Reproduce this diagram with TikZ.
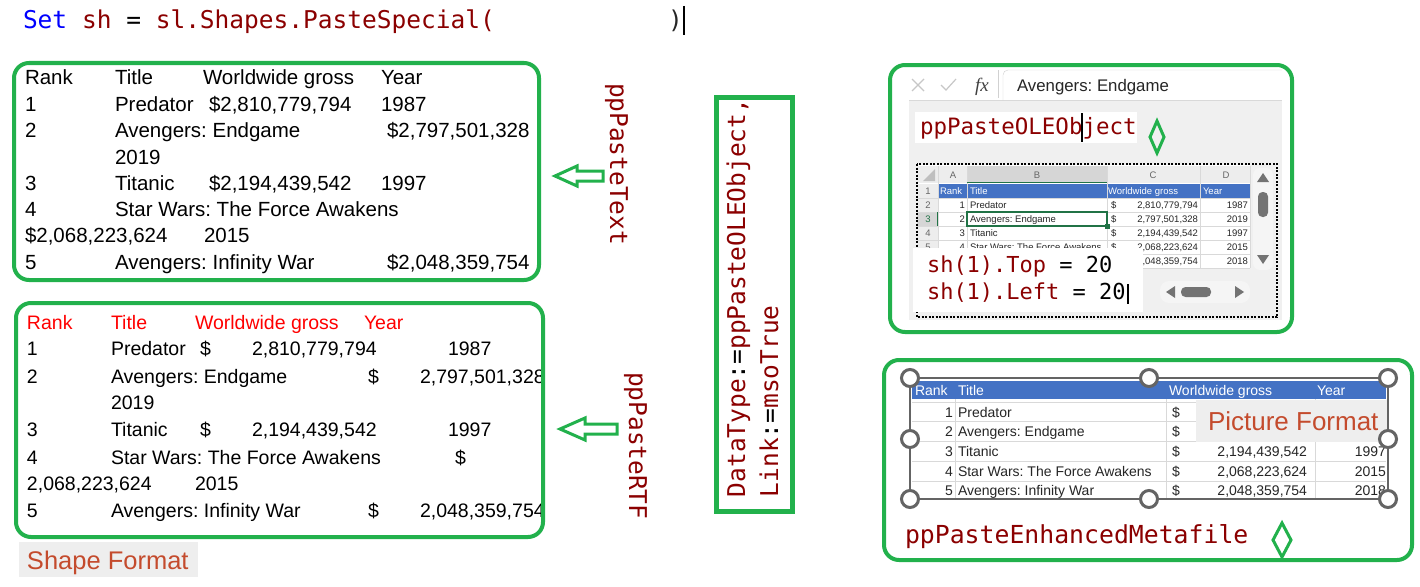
\documentclass[tikz,border=0pt]{standalone}
\usepackage{fontspec}
\setmainfont{Liberation Sans}
\newfontfamily\codefont{DejaVu Sans Mono}
\newfontfamily\fxfont{Liberation Serif}
\definecolor{grn}{RGB}{34,177,76}
\definecolor{vbared}{RGB}{139,0,0}
\definecolor{kwblue}{RGB}{0,0,255}
\definecolor{lbltxt}{RGB}{196,75,45}
\definecolor{lblbg}{RGB}{238,238,238}
\definecolor{xlblue}{RGB}{68,114,196}
\definecolor{xlgrid}{RGB}{217,217,217}
\definecolor{panel}{RGB}{240,240,240}
\definecolor{hdl}{RGB}{100,100,100}
\definecolor{xlgreen}{RGB}{33,115,70}
\frenchspacing
\begin{document}
\begin{tikzpicture}[x=1pt,y=-1pt,
  every node/.style={inner sep=0pt,outer sep=0pt},
  gbox/.style={draw=grn,line width=4pt,rounded corners=15pt},
  codetxt/.style={font=\codefont\fontsize{#1}{#1}\selectfont,text=vbared,anchor=base west},
  codetxt/.default=24.5,
  ta/.style={font=\fontsize{20.5}{24}\selectfont,anchor=base west},
  tb/.style={font=\fontsize{19.5}{23}\selectfont,anchor=base west},
  tbh/.style={tb,text=red},
  xs/.style={font=\fontsize{9.5}{11}\selectfont,anchor=base west,text=black!85},
  xsr/.style={xs,anchor=base east},
  xsc/.style={xs,anchor=base,text=black!60},
  xsw/.style={xs,text=white},
  pt/.style={font=\fontsize{14}{16}\selectfont,anchor=base west,text=black!85},
  ptr/.style={pt,anchor=base east},
  ptw/.style={pt,text=white},
  lbl/.style={font=\fontsize{#1}{#1}\selectfont,text=lbltxt,anchor=base west},
  hollowarrow/.style={draw=grn,line width=3pt,fill=white,line join=miter},
  cursor/.style={draw=black,line width=1.1pt},
  handlecirc/.style={draw=hdl,fill=white,line width=3pt},
  sdiamond/.style={draw=grn,line width=3pt,line join=miter}
]
\useasboundingbox (0,0) rectangle (1420,586);
\fill[white] (0,0) rectangle (1420,586);

% ---- top code line
\node[codetxt] (cmd) at (23,29) {\textcolor{kwblue}{Set} sh \textcolor{black}{=} sl.Shapes.PasteSpecial(};
\node[codetxt,text=black!85] (cparen) at (668,29) {)};
\coordinate (cur0a) at (684,6); \coordinate (cur0b) at (684,35);
\draw[cursor] (cur0a) -- (cur0b);

% ---- box 1 : ppPasteText
\draw[gbox] (14,63) rectangle (539,280);
\node[ta] (a11) at (25,84.5) {Rank};
\node[ta] (a12) at (115,84.5) {Title};
\node[ta] (a13) at (203,84.5) {Worldwide gross};
\node[ta] (a14) at (381,84.5) {Year};
\node[ta] (a21) at (25,111.5) {1};
\node[ta] (a22) at (115,111.5) {Predator};
\node[ta] (a23) at (209,111.5) {\$2,810,779,794};
\node[ta] (a24) at (381,111.5) {1987};
\node[ta] (a31) at (25,137.5) {2};
\node[ta] (a32) at (115,137.5) {Avengers: Endgame};
\node[ta] (a33) at (387,137.5) {\$2,797,501,328};
\node[ta] (a42) at (115,164.5) {2019};
\node[ta] (a51) at (25,190.5) {3};
\node[ta] (a52) at (115,190.5) {Titanic};
\node[ta] (a53) at (209,190.5) {\$2,194,439,542};
\node[ta] (a54) at (381,190.5) {1997};
\node[ta] (a61) at (25,216.5) {4};
\node[ta] (a62) at (115,216.5) {Star Wars: The Force Awakens};
\node[ta] (a71) at (25,242.5) {\$2,068,223,624};
\node[ta] (a72) at (204,242.5) {2015};
\node[ta] (a81) at (25,269.5) {5};
\node[ta] (a82) at (115,269.5) {Avengers: Infinity War};
\node[ta] (a83) at (387,269.5) {\$2,048,359,754};

\draw[hollowarrow] (555,176) -- (577,166) -- (577,171) -- (603,171) -- (603,181) -- (577,181) -- (577,186) -- cycle;
\node[codetxt,rotate=-90] (pptext) at (610,83) {ppPasteText};

% ---- box 2 : ppPasteRTF
\begin{scope}
\clip (16,303) rectangle (541,537);
\node[tbh] (b11) at (27,329) {Rank};
\node[tbh] (b12) at (111,329) {Title};
\node[tbh] (b13) at (195,329) {Worldwide gross};
\node[tbh] (b14) at (364,329) {Year};
\node[tb] (b21) at (27,355) {1};
\node[tb] (b22) at (111,355) {Predator};
\node[tb] (b23) at (200,355) {\$};
\node[tb] (b24) at (252,355) {2,810,779,794};
\node[tb] (b25) at (448,355) {1987};
\node[tb] (b31) at (27,383) {2};
\node[tb] (b32) at (111,383) {Avengers: Endgame};
\node[tb] (b33) at (368,383) {\$};
\node[tb] (b34) at (420,383) {2,797,501,328};
\node[tb] (b42) at (111,409) {2019};
\node[tb] (b51) at (27,436) {3};
\node[tb] (b52) at (111,436) {Titanic};
\node[tb] (b53) at (200,436) {\$};
\node[tb] (b54) at (252,436) {2,194,439,542};
\node[tb] (b55) at (448,436) {1997};
\node[tb] (b61) at (27,464) {4};
\node[tb] (b62) at (111,464) {Star Wars: The Force Awakens};
\node[tb] (b63) at (455,464) {\$};
\node[tb] (b71) at (27,490) {2,068,223,624};
\node[tb] (b72) at (195,490) {2015};
\node[tb] (b81) at (27,517) {5};
\node[tb] (b82) at (111,517) {Avengers: Infinity War};
\node[tb] (b83) at (368,517) {\$};
\node[tb] (b84) at (420,517) {2,048,359,754};
\end{scope}
\draw[gbox] (16,303) rectangle (543,537);

\draw[hollowarrow] (560,429) -- (585,418) -- (585,424) -- (617,424) -- (617,434) -- (585,434) -- (585,440) -- cycle;
\node[codetxt,rotate=-90] (pprtf) at (629,372) {ppPasteRTF};

\fill[lblbg] (19,542) rectangle (198,577);
\node[lbl=25.5] (shapefmt) at (27,569) {Shape Format};

% ---- middle box
\draw[draw=grn,line width=5pt] (716,97) rectangle (792,511);
\node[codetxt,rotate=90] (dtype) at (745,497) {DataType\textcolor{black}{:=}ppPasteOLEObject,};
\node[codetxt,rotate=90] (link) at (778,497) {Link\textcolor{black}{:=}msoTrue};

% ---- top right box : OLE object
\fill[panel] (909,100) rectangle (1282,320);
\draw[black!15] (909,100) -- (1282,100);
\draw[black!18] (998,70) -- (998,98);
\draw[black!18,rounded corners=5pt] (1003,100) -- (1003,70) -- (1282,70);
\draw[black!22,line width=1.2pt] (912,79) -- (924,91) (912,91) -- (924,79);
\draw[black!22,line width=1.2pt] (941,85) -- (946,90) -- (956,79);
\node[font=\fxfont\itshape\fontsize{19}{20}\selectfont,anchor=base,text=black!75] (fx) at (982,91) {fx};
\node[font=\fontsize{16.8}{18}\selectfont,anchor=base west,text=black!85] (fbar) at (1017,91) {Avengers: Endgame};

\fill[white] (915,112) rectangle (1137,143);
\node[codetxt=22.5] (ole) at (920,134) {ppPasteOLEObject};
\coordinate (cur1a) at (1082,113); \coordinate (cur1b) at (1082,142);
\draw[cursor] (cur1a) -- (cur1b);
\draw[sdiamond] (1157,121) -- (1164,137) -- (1157,153) -- (1150,137) -- cycle;

% sheet
\fill[white] (917,165) rectangle (1277,318);
\fill[panel] (1250,165) rectangle (1277,318);
\fill[panel] (917,268) rectangle (1277,318);
\fill[black!7] (917,166) rectangle (1250,183);
\fill[black!25] (935,169) -- (935,181) -- (923,181) -- cycle;
\fill[black!16] (967,166) rectangle (1107,183);
\fill[black!7] (917,184) rectangle (938,268);
\fill[black!16] (917,212) rectangle (938,226);
\fill[xlblue] (938,184) rectangle (1250,198);
\foreach \gy in {198,212,226,240,254,268} \draw[xlgrid,line width=0.6pt] (917,\gy) -- (1250,\gy);
\foreach \gx in {938,967,1107,1200,1250} \draw[xlgrid,line width=0.6pt] (\gx,166) -- (\gx,268);
\draw[xlgreen,line width=1.6pt] (967,182.5) -- (1107,182.5);
\draw[xlgreen,line width=1.6pt] (937.5,212) -- (937.5,226);
\node[xsc] (ca) at (953,178.5) {A};
\node[xsc] (cb) at (1037,178.5) {B};
\node[xsc] (cc) at (1153,178.5) {C};
\node[xsc] (cd) at (1226,178.5) {D};
\node[xsc] (n1) at (928,194.5) {1};
\node[xsc] (n2) at (928,208.5) {2};
\node[xsc,text=xlgreen] (n3) at (928,222.5) {3};
\node[xsc] (n4) at (928,236.5) {4};
\node[xsc] (n5) at (928,250.5) {5};
\node[xsw] (h1) at (940,194.5) {Rank};
\node[xsw] (h2) at (970,194.5) {Title};
\node[xsw] (h3) at (1108,194.5) {Worldwide gross};
\node[xsw] (h4) at (1203,194.5) {Year};
\node[xsr] (r21) at (965,208.5) {1};
\node[xs] (r22) at (970,208.5) {Predator};
\node[xs] (r23) at (1111,208.5) {\$};
\node[xsr] (r24) at (1198,208.5) {2,810,779,794};
\node[xsr] (r25) at (1248,208.5) {1987};
\node[xsr] (r31) at (965,222.5) {2};
\node[xs] (r32) at (970,222.5) {Avengers: Endgame};
\node[xs] (r33) at (1111,222.5) {\$};
\node[xsr] (r34) at (1198,222.5) {2,797,501,328};
\node[xsr] (r35) at (1248,222.5) {2019};
\node[xsr] (r41) at (965,236.5) {3};
\node[xs] (r42) at (970,236.5) {Titanic};
\node[xs] (r43) at (1111,236.5) {\$};
\node[xsr] (r44) at (1198,236.5) {2,194,439,542};
\node[xsr] (r45) at (1248,236.5) {1997};
\node[xsr] (r51) at (965,250.5) {4};
\node[xs] (r52) at (970,250.5) {Star Wars: The Force Awakens};
\node[xs] (r53) at (1111,250.5) {\$};
\node[xsr] (r54) at (1198,250.5) {2,068,223,624};
\node[xsr] (r55) at (1248,250.5) {2015};
\node[xsr] (r64) at (1198,264.5) {2,048,359,754};
\node[xsr] (r65) at (1248,264.5) {2018};
\draw[xlgreen,line width=1.5pt] (967,212) rectangle (1107,226);
\fill[xlgreen] (1104.5,223.5) rectangle (1109.5,228.5);
% scrollbars
\fill[white!96!black,rounded corners=7pt] (1253,168) rectangle (1273,270);
\fill[black!55] (1263,173) -- (1269,182) -- (1257,182) -- cycle;
\fill[black!55,rounded corners=4.5pt] (1258,192) rectangle (1268,217);
\fill[black!55] (1257,255) -- (1269,255) -- (1263,264) -- cycle;
\fill[white!96!black,rounded corners=9pt] (1160,281) rectangle (1250,303);
\fill[black!55] (1166,292) -- (1175,286) -- (1175,298) -- cycle;
\fill[black!55,rounded corners=4.5pt] (1181,287) rectangle (1211,297);
\fill[black!55] (1244,292) -- (1235,286) -- (1235,298) -- cycle;
% dashed OLE border
\draw[line width=2.5pt,dash pattern=on 2pt off 1.5pt] (917,164) rectangle (1277,317);
% overlay code
\fill[white] (913,248) rectangle (1143,312);
\node[codetxt=22] (shtop) at (927,272) {sh(1).Top \textcolor{black}{= 20}};
\node[codetxt=22] (shleft) at (927,299) {sh(1).Left \textcolor{black}{= 20}};
\coordinate (cur2a) at (1128,284); \coordinate (cur2b) at (1128,304);
\draw[cursor] (cur2a) -- (cur2b);
\draw[gbox] (890,65) rectangle (1292,332);

% ---- bottom right box : enhanced metafile
\fill[xlblue] (912,381) rectangle (1386,399);
\foreach \gy in {402,421,441,461,481} \draw[xlgrid,line width=0.8pt] (912,\gy) -- (1386,\gy);
\foreach \gx in {955,1166,1315} \draw[xlgrid,line width=0.8pt] (\gx,399) -- (\gx,499);
\node[ptw] (p11) at (915,395.5) {Rank};
\node[ptw] (p12) at (958,395.5) {Title};
\node[ptw] (p13) at (1169,395.5) {Worldwide gross};
\node[ptw] (p14) at (1317,395.5) {Year};
\node[ptr] (p21) at (953,417) {1};
\node[pt] (p22) at (958,417) {Predator};
\node[pt] (p23) at (1172,417) {\$};
\node[ptr] (p31) at (953,436) {2};
\node[pt] (p32) at (958,436) {Avengers: Endgame};
\node[pt] (p33) at (1172,436) {\$};
\node[ptr] (p41) at (953,456) {3};
\node[pt] (p42) at (958,456) {Titanic};
\node[pt] (p43) at (1172,456) {\$};
\node[ptr] (p44) at (1307,456) {2,194,439,542};
\node[ptr] (p45) at (1386,456) {1997};
\node[ptr] (p51) at (953,476) {4};
\node[pt] (p52) at (958,476) {Star Wars: The Force Awakens};
\node[pt] (p53) at (1172,476) {\$};
\node[ptr] (p54) at (1307,476) {2,068,223,624};
\node[ptr] (p55) at (1386,476) {2015};
\node[ptr] (p61) at (953,495) {5};
\node[pt] (p62) at (958,495) {Avengers: Infinity War};
\node[pt] (p63) at (1172,495) {\$};
\node[ptr] (p64) at (1307,495) {2,048,359,754};
\node[ptr] (p65) at (1386,495) {2018};
\fill[lblbg] (1196,400) rectangle (1388,442);
\node[lbl=26] (picfmt) at (1208,430) {Picture Format};
\draw[hdl,line width=2.5pt] (910,378) rectangle (1388,499);
\foreach \hx/\hy in {910/378,1149/378,1388/378,910/439,1388/439,910/499,1149/499,1388/499}
  \draw[handlecirc] (\hx,\hy) circle[radius=8.5pt];
\node[codetxt=24.8] (emf) at (905,543) {ppPasteEnhancedMetafile};
\draw[sdiamond] (1282,523) -- (1291,540) -- (1282,557) -- (1273,540) -- cycle;
\draw[gbox] (884,360) rectangle (1412,560);
\end{tikzpicture}
\end{document}
